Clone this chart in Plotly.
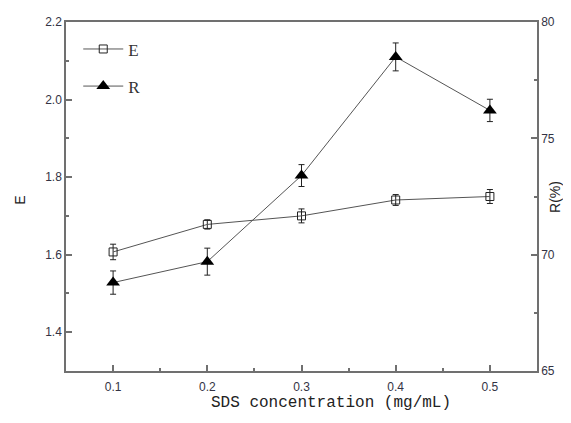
import plotly.graph_objects as go

conc = [0.1, 0.2, 0.3, 0.4, 0.5]
E_vals = [1.607, 1.678, 1.700, 1.741, 1.750]
E_err = [0.020, 0.012, 0.018, 0.014, 0.018]
R_vals = [68.8, 69.7, 73.4, 78.5, 76.2]
R_err = [0.50, 0.58, 0.47, 0.60, 0.48]

x_ticks = [0.1, 0.2, 0.3, 0.4, 0.5]
E_ticks = [1.4, 1.6, 1.8, 2.0, 2.2]
R_ticks = [65, 70, 75, 80]

line_col = "#555555"
axis_col = "#707070"
tick_font = dict(family="Liberation Sans, Arial", size=12, color="#333344")
title_font = dict(family="Liberation Sans, Arial", size=14, color="#222222")

fig = go.Figure()
fig.add_trace(go.Scatter(
    x=conc, y=E_vals, name="E", mode="lines+markers",
    legendgroup="E",
    line=dict(color=line_col, width=1),
    marker=dict(symbol="square-open", size=8, color="#222222", line=dict(width=1)),
    error_y=dict(type="data", array=E_err, visible=True, color="#222222", thickness=1, width=3),
    yaxis="y",
))
fig.add_trace(go.Scatter(
    x=conc, y=R_vals, name="R", mode="lines+markers",
    legendgroup="R",
    line=dict(color=line_col, width=1),
    marker=dict(symbol="triangle-up", size=12, color="#000000"),
    error_y=dict(type="data", array=R_err, visible=True, color="#222222", thickness=1, width=3),
    yaxis="y2",
))

fig.update_layout(
    width=555, height=407,
    margin=dict(l=58, r=26, t=14, b=44, autoexpand=False),
    paper_bgcolor="white", plot_bgcolor="white",
    showlegend=True,
    legend=dict(
        x=0.026, y=0.973, xanchor="left", yanchor="top",
        bgcolor="rgba(0,0,0,0)",
        font=dict(family="Liberation Serif, Times New Roman", size=17, color="#333333"),
        tracegroupgap=12, traceorder="grouped", itemwidth=40,
    ),
    xaxis=dict(
        range=[0.05, 0.55], tickvals=x_ticks, ticktext=[str(v) for v in x_ticks],
        ticks="inside", ticklen=6, tickcolor=axis_col, tickwidth=1.5,
        minor=dict(ticks="inside", ticklen=3, dtick=0.05, tickcolor=axis_col, tick0=0.05),
        showline=True, linecolor=axis_col, linewidth=1.5, mirror=True,
        showgrid=False, zeroline=False, automargin=False,
        tickfont=tick_font, ticklabelstandoff=4,
    ),
    yaxis=dict(
        range=[1.3, 2.2], tickvals=E_ticks, ticktext=["%.1f" % v for v in E_ticks],
        ticks="inside", ticklen=6, tickcolor=axis_col, tickwidth=1.5,
        minor=dict(ticks="inside", ticklen=3, dtick=0.1, tick0=1.3, tickcolor=axis_col),
        showline=True, linecolor=axis_col, linewidth=1.5,
        showgrid=False, zeroline=False, automargin=False,
        tickfont=tick_font,
    ),
    yaxis2=dict(
        range=[65, 80], tickvals=R_ticks, ticktext=[str(v) for v in R_ticks],
        overlaying="y", side="right", anchor="x",
        ticks="inside", ticklen=6, tickcolor=axis_col, tickwidth=1.5,
        minor=dict(ticks="inside", ticklen=3, dtick=2.5, tick0=65, tickcolor=axis_col),
        showline=True, linecolor=axis_col, linewidth=1.5,
        showgrid=False, zeroline=False, automargin=False,
        tickfont=tick_font,
    ),
    annotations=[
        dict(text="SDS concentration (mg/mL)", xref="paper", yref="paper",
             x=0.563, y=-0.092, xanchor="center", yanchor="middle", showarrow=False,
             font=dict(family="Liberation Mono, Courier New", size=16, color="#222222")),
        dict(text="E", xref="paper", yref="paper", textangle=-90,
             x=-0.098, y=0.49, xanchor="center", yanchor="middle", showarrow=False,
             font=title_font),
        dict(text="R(%)", xref="paper", yref="paper", textangle=-90,
             x=1.037, y=0.50, xanchor="center", yanchor="middle", showarrow=False,
             font=title_font),
    ],
)

fig.write_html("out.html")
